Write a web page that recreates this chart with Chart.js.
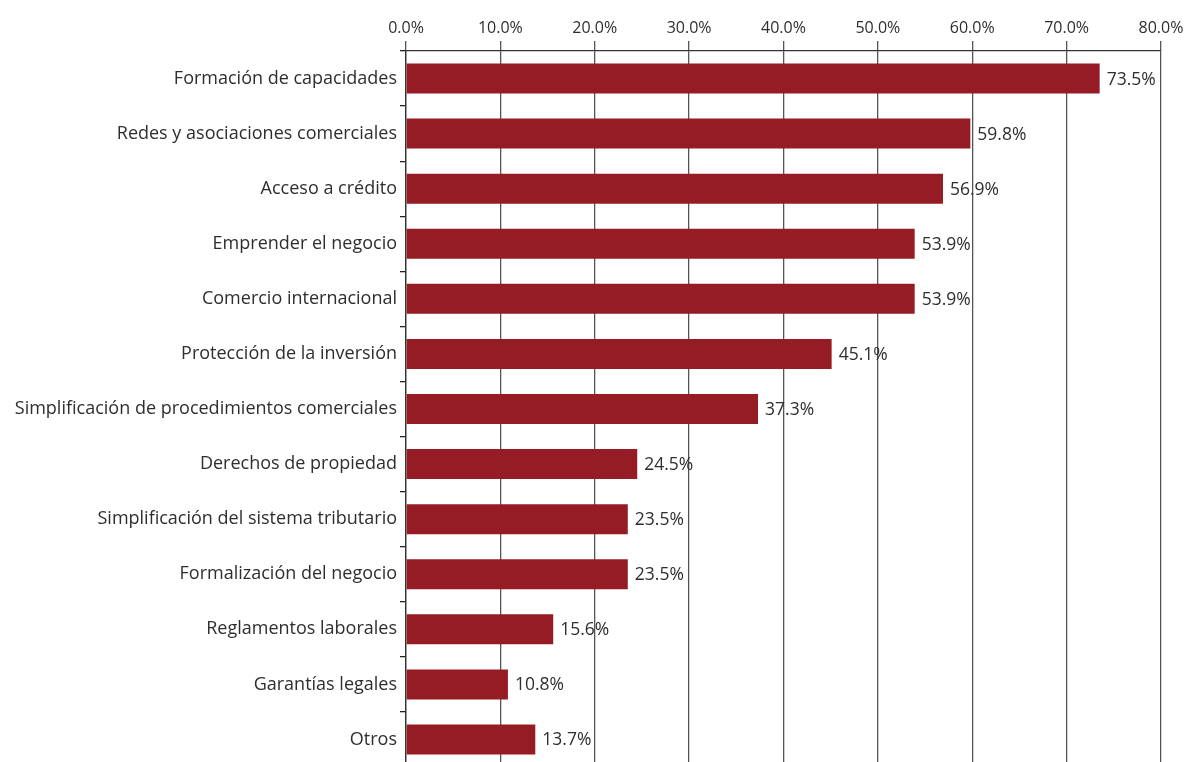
<!DOCTYPE html>
<html>
<head>
<meta charset="utf-8">
<script src="https://cdn.jsdelivr.net/npm/chart.js@4.4.0/dist/chart.umd.min.js"></script>
<style>
html,body{margin:0;padding:0;background:#fff;overflow:hidden;}
canvas{display:block;}
</style>
</head>
<body>
<canvas id="c" width="1184" height="767" style="width:1184px;height:767px;"></canvas>
<script>
const categories = [
  "Formación de capacidades",
  "Redes y asociaciones comerciales",
  "Acceso a crédito",
  "Emprender el negocio",
  "Comercio internacional",
  "Protección de la inversión",
  "Simplificación de procedimientos comerciales",
  "Derechos de propiedad",
  "Simplificación del sistema tributario",
  "Formalización del negocio",
  "Reglamentos laborales",
  "Garantías legales",
  "Otros"
];
const values = [73.5, 59.8, 56.9, 53.9, 53.9, 45.1, 37.3, 24.5, 23.5, 23.5, 15.6, 10.8, 13.7];
const xTicks = [0, 10, 20, 30, 40, 50, 60, 70, 80];

const FONT = "'Open Sans', 'DejaVu Sans', sans-serif";
const TEXT = '#2e2e2e';

const valueLabels = {
  id: 'valueLabels',
  afterDatasetsDraw(chart) {
    const ctx = chart.ctx;
    const meta = chart.getDatasetMeta(0);
    ctx.save();
    ctx.font = '17.5px ' + FONT;
    ctx.fillStyle = TEXT;
    ctx.textAlign = 'left';
    ctx.textBaseline = 'middle';
    meta.data.forEach((bar, i) => {
      ctx.fillText(values[i].toFixed(1) + '%', bar.x + 7, bar.y + 1);
    });
    ctx.restore();
  }
};

new Chart(document.getElementById('c'), {
  type: 'bar',
  data: {
    labels: categories,
    datasets: [{
      data: values,
      backgroundColor: '#951c24',
      borderWidth: 0,
      barPercentage: 0.545,
      categoryPercentage: 1
    }]
  },
  options: {
    indexAxis: 'y',
    responsive: false,
    devicePixelRatio: 1,
    animation: false,
    layout: { padding: { left: 0, right: 23, top: 0, bottom: 0 } },
    plugins: { legend: { display: false }, tooltip: { enabled: false } },
    scales: {
      x: {
        position: 'top',
        min: 0,
        max: 80,
        afterBuildTicks(scale) { scale.ticks = xTicks.map(v => ({ value: v })); },
        afterFit(scale) { scale.height = 51; scale.paddingLeft = 0; scale.paddingRight = 0; },
        ticks: {
          callback: (v) => Number(v).toFixed(1) + '%',
          color: TEXT,
          font: { family: FONT, size: 16 },
          padding: 3,
          maxRotation: 0
        },
        grid: { color: '#555', lineWidth: 1.3, tickLength: 10, drawTicks: true },
        border: { display: true, color: '#333', width: 1.3 }
      },
      y: {
        afterFit(scale) { scale.width = 406; scale.paddingTop = 0; scale.paddingBottom = 0; },
        ticks: {
          color: TEXT,
          font: { family: FONT, size: 18 },
          padding: 3,
          autoSkip: false
        },
        grid: { display: true, drawOnChartArea: false, tickLength: 6, color: '#222', lineWidth: 1.3, offset: true },
        border: { display: true, color: '#333', width: 1.3 }
      }
    }
  },
  plugins: [valueLabels]
});
</script>
</body>
</html>
